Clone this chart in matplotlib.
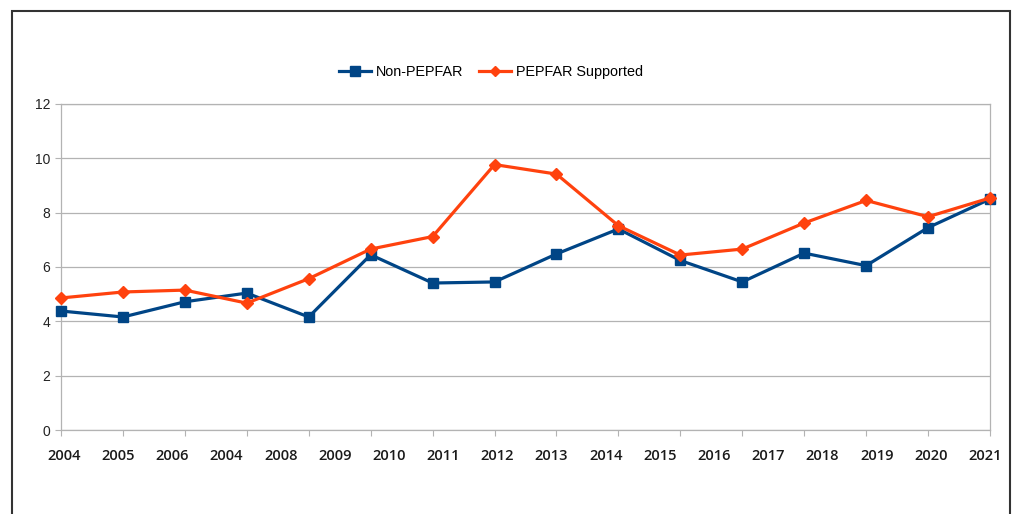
import matplotlib
matplotlib.use("Agg")
import matplotlib.pyplot as plt
from matplotlib.patches import Rectangle

# values (16 plotted points, 18 axis labels)
point_index = list(range(16))
non_pepfar = [4.38, 4.16, 4.72, 5.04, 4.16, 6.45, 5.41, 5.45,
              6.48, 7.40, 6.24, 5.45, 6.51, 6.05, 7.45, 8.50]
pepfar = [4.86, 5.08, 5.15, 4.67, 5.57, 6.66, 7.12, 9.77,
          9.42, 7.52, 6.44, 6.66, 7.62, 8.45, 7.85, 8.54]
year_labels = ["2004", "2005", "2006", "2004", "2008", "2009", "2010", "2011", "2012",
               "2013", "2014", "2015", "2016", "2017", "2018", "2019", "2020", "2021"]
y_ticks = [0, 2, 4, 6, 8, 10, 12]

BLUE = "#004586"
ORANGE = "#ff420e"
GRID = "#b3b3b3"

plt.rcParams["font.family"] = ["Liberation Sans", "DejaVu Sans"]

fig = plt.figure(figsize=(10.16, 5.14), dpi=100)
ax = fig.add_axes([0.06004, 0.16342, 0.91437, 0.63425])

ax.plot(point_index, non_pepfar, color=BLUE, lw=2.3, marker="s", ms=7.5,
        label="Non-PEPFAR", zorder=3, clip_on=False)
ax.plot(point_index, pepfar, color=ORANGE, lw=2.3, marker="D", ms=6,
        label="PEPFAR Supported", zorder=4, clip_on=False)

ax.set_xlim(0, 15)
ax.set_ylim(0, 12)
ax.set_yticks(y_ticks)
ax.set_xticks(point_index)
ax.set_xticklabels([])
ax.grid(axis="y", color=GRID, lw=0.9)
ax.set_axisbelow(True)
for s in ax.spines.values():
    s.set_color(GRID)
    s.set_linewidth(0.9)
ax.tick_params(axis="y", length=4.3, width=0.8, color=GRID, pad=3.6,
               labelsize=10, labelcolor="#222222")
ax.tick_params(axis="x", length=4, width=0.8, color=GRID)

# year labels sit on their own even spacing, independent of the points
ax2 = ax.twiny()
ax2.set_xlim(-0.055, 17.092)
ax2.set_xticks(range(len(year_labels)))
ax2.set_xticklabels(year_labels, fontfamily="Open Sans", fontweight="semibold",
                    fontsize=10.5, color="#1a1a1a")
ax2.xaxis.set_ticks_position("bottom")
ax2.tick_params(axis="x", length=0, pad=13.5)
for s in ax2.spines.values():
    s.set_visible(False)

fig.legend(loc="center", bbox_to_anchor=(0.483, 0.860), ncol=2, frameon=False,
           fontsize=10.4, handlelength=2.2, handletextpad=0.35, columnspacing=1.1,
           markerscale=0.9)

# outer frame around the chart
fig.patches.append(Rectangle((12 / 1016, -0.2), 998 / 1016, 1.2 - 10.7 / 514,
                             transform=fig.transFigure, fill=False,
                             edgecolor="#333333", lw=1.5, clip_on=False))

fig.savefig("out.png", dpi=100)
